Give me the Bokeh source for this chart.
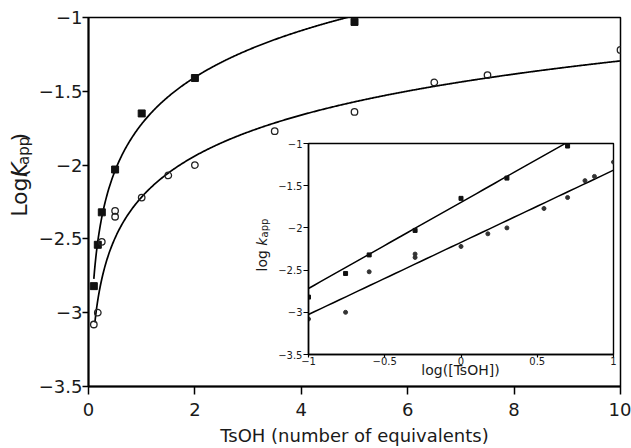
import math
import numpy as np
from bokeh.plotting import figure
from bokeh.models import FixedTicker, CustomJSTickFormatter, Range1d
from bokeh.layouts import row
from bokeh.core.properties import value
from bokeh.embed import file_html
from bokeh.resources import INLINE

# ---------------- data ----------------
sq_eq = [0.1, 0.175, 0.25, 0.5, 1, 2, 5]
sq_logk = [-2.82, -2.54, -2.32, -2.03, -1.65, -1.41, -1.03]

ci_eq = [0.1, 0.175, 0.25, 0.5, 0.5, 1, 1.5, 2, 3.5, 5, 6.5, 7.5, 10]
ci_logk = [-3.08, -3.0, -2.52, -2.31, -2.35, -2.22, -2.07, -2.0, -1.77, -1.64, -1.44, -1.39, -1.22]

# fitted lines  y = a + b*log10(x)  (intercept, slope)
main_fit_sq = (-1.721, 1.05)
main_fit_ci = (-2.216, 0.922)
inset_fit_sq = (-1.697, 1.021)
inset_fit_ci = (-2.171, 0.855)

main_xticks = [0, 2, 4, 6, 8, 10]
main_yticks = [-3.5, -3, -2.5, -2, -1.5, -1]
inset_xticks = [-1, -0.5, 0, 0.5, 1]
inset_yticks = [-3.5, -3, -2.5, -2, -1.5, -1]

FONT = "DejaVu Sans"
TXT = "#1a1a1a"
minus_fmt = "return tick.toString().replace('-', '\\u2212');"
ang = math.pi / 2

# ---------------- narrow strip holding the rotated y title ----------------
YW = 35
ylab = figure(width=YW, height=448, x_range=Range1d(0, YW), y_range=Range1d(0, 448),
              output_backend="svg", toolbar_location=None,
              x_axis_location=None, y_axis_location=None, min_border=0)
ylab.grid.visible = False
ylab.outline_line_color = None
y0, bx = 206, 19
ylab.text(x=[bx], y=[y0], text=["Log("], angle=ang, text_font=value(FONT),
          text_font_size="22px", text_color=TXT, text_align="left", text_baseline="alphabetic")
ylab.text(x=[bx], y=[y0 + 48.3], text=["K"], angle=ang, text_font=value(FONT),
          text_font_size="22px", text_font_style="italic", text_color=TXT,
          text_align="left", text_baseline="alphabetic")
ylab.text(x=[bx + 4], y=[y0 + 63], text=["app"], angle=ang, text_font=value(FONT),
          text_font_size="15px", text_color=TXT, text_align="left", text_baseline="alphabetic")
ylab.text(x=[bx], y=[y0 + 91.5], text=[")"], angle=ang, text_font=value(FONT),
          text_font_size="22px", text_color=TXT, text_align="left", text_baseline="alphabetic")

# ---------------- main plot ----------------
p = figure(width=631 - YW, height=448, x_range=(0, 10), y_range=(-3.5, -1),
           output_backend="svg", toolbar_location=None,
           min_border_left=88 - YW, min_border_right=11, min_border_top=17, min_border_bottom=62)
p.grid.visible = False
p.outline_line_color = "black"
p.outline_line_width = 1.5

for ax, ticks, out in ((p.xaxis[0], main_xticks, 8), (p.yaxis[0], main_yticks, 6)):
    ax.ticker = FixedTicker(ticks=ticks)
    ax.formatter = CustomJSTickFormatter(code=minus_fmt)
    ax.axis_line_width = 2
    ax.axis_line_color = "black"
    ax.major_tick_line_width = 1.5
    ax.major_tick_out = out
    ax.major_tick_in = 0
    ax.minor_tick_line_color = None
    ax.major_label_text_font = FONT
    ax.major_label_text_font_size = "18px"
    ax.major_label_text_color = TXT
p.xaxis.major_label_standoff = 8
p.yaxis.major_label_standoff = 0
p.xaxis.axis_label = "TsOH (number of equivalents)"
p.xaxis.axis_label_text_font = FONT
p.xaxis.axis_label_text_font_size = "18px"
p.xaxis.axis_label_text_font_style = "normal"
p.xaxis.axis_label_text_color = TXT
p.xaxis.axis_label_standoff = 6

xs_sq = np.linspace(0.1, 5, 400)
xs_ci = np.linspace(0.12, 10, 600)
p.line(xs_sq, main_fit_sq[0] + main_fit_sq[1] * np.log10(xs_sq), line_color="black", line_width=1.7)
p.line(xs_ci, main_fit_ci[0] + main_fit_ci[1] * np.log10(xs_ci), line_color="black", line_width=1.7)

p.scatter(sq_eq, sq_logk, marker="square", size=7, fill_color="#111111", line_color="#111111")
p.scatter(ci_eq, ci_logk, marker="circle", size=6.5, fill_color=None, line_color="#222222", line_width=1.3)


def at(px, py):
    """page pixel -> main data coordinates (for placing the inset titles)"""
    return (px - 88) / 532 * 10, -1 - (py - 17) / 369 * 2.5


# inset titles (drawn in the main plot area, under the transparent inset)
tx, ty = at(460, 369)
p.text(x=[tx], y=[ty], text=["log([TsOH])"], text_font=value(FONT), text_font_size="14px",
       text_color=TXT, text_align="center", text_baseline="alphabetic")
for (px, py, s, size, style) in ((261, 271, "log ", "14px", "normal"),
                                 (261, 245.2, "k", "14px", "italic"),
                                 (264, 236.9, "app", "10px", "normal")):
    a, b = at(px, py)
    p.text(x=[a], y=[b], text=[s], angle=ang, text_font=value(FONT), text_font_size=size,
           text_font_style=style, text_color=TXT, text_align="left", text_baseline="alphabetic")

# ---------------- inset ----------------
q = figure(frame_width=305, frame_height=211, x_range=(-1, 1), y_range=(-3.5, -1),
           output_backend="svg", toolbar_location=None,
           min_border_left=56, min_border_right=5, min_border_top=8, min_border_bottom=29,
           styles={"position": "absolute", "left": "252px", "top": "126px"})
q.grid.visible = False
q.outline_line_color = "black"
q.outline_line_width = 1.4
q.background_fill_color = None
q.border_fill_color = None

for ax, ticks, out in ((q.xaxis[0], inset_xticks, 3), (q.yaxis[0], inset_yticks, 5)):
    ax.ticker = FixedTicker(ticks=ticks)
    ax.formatter = CustomJSTickFormatter(code=minus_fmt)
    ax.axis_line_width = 1.5
    ax.axis_line_color = "black"
    ax.major_tick_line_width = 1.2
    ax.major_tick_out = out
    ax.major_tick_in = 0
    ax.minor_tick_line_color = None
    ax.major_label_text_font = FONT
    ax.major_label_text_font_size = "10px"
    ax.major_label_text_color = TXT
q.xaxis.major_label_standoff = -1
q.yaxis.major_label_standoff = 1

lx = np.linspace(-1, 1, 50)
q.line(lx, inset_fit_sq[0] + inset_fit_sq[1] * lx, line_color="black", line_width=1.5)
q.line(lx, inset_fit_ci[0] + inset_fit_ci[1] * lx, line_color="black", line_width=1.5)

q.scatter(np.log10(sq_eq), sq_logk, marker="square", size=4, fill_color="#111111", line_color="#111111")
q.scatter(np.log10(ci_eq), ci_logk, marker="circle", size=4, fill_color="#333333", line_color="#333333")

layout = row(ylab, p, q)
open("out.html", "w").write(file_html(layout, INLINE))
